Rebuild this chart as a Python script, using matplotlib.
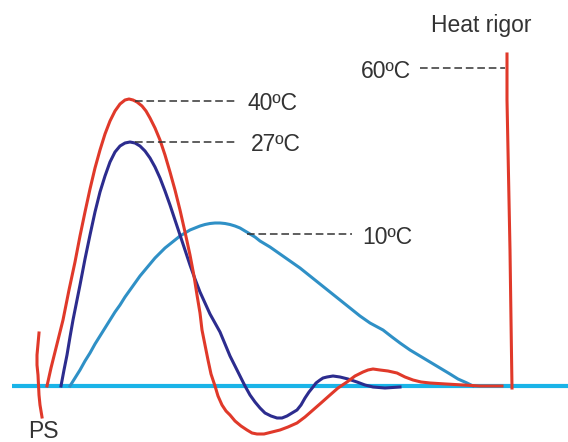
import matplotlib.pyplot as plt

plt.rcParams['font.family'] = ['Liberation Sans', 'DejaVu Sans']

# curve points (pixel units, y downwards)
red_x = [47, 51, 55, 59, 63, 69, 75, 80, 85, 90, 95, 100, 105, 110, 115, 120, 125, 129, 133, 137, 142, 146,
         150, 155, 160, 165, 170, 175, 180, 185, 190, 194, 197, 200, 202, 205, 208, 211, 215,
         218, 222, 226, 230, 235, 241, 247, 252, 257, 264, 272, 280, 288, 297, 305, 313, 321, 330, 338, 347,
         355, 363, 368, 373, 380, 388, 397, 405, 413, 421, 430, 446, 463, 480, 502]
red_y = [386, 368, 352, 336, 320, 290, 262, 236, 212, 189, 168, 150, 134, 121, 111, 104, 100, 99, 100, 102, 106, 111,
         118, 128, 140, 155, 172, 190, 210, 232, 255, 276, 295, 313, 330, 345, 360, 374, 386,
         396, 405, 411, 415, 421, 426, 430, 433, 434, 434, 432, 430, 427, 423, 417, 410, 403, 395, 388, 382,
         376, 372, 370, 369, 370, 371, 373, 377, 380, 382, 383, 384, 385, 386, 386]

navy_x = [61, 64, 67, 70, 73, 77, 80, 85, 90, 95, 100, 105, 110, 115, 120, 125, 130, 135, 140, 145, 150, 155,
          160, 165, 170, 175, 180, 185, 190, 195, 200, 205, 210, 215, 220, 225, 230, 235, 240,
          245, 250, 255, 260, 265, 271, 277, 282, 287, 292, 297, 301, 305, 309, 313, 316, 320, 323, 327, 333,
          340, 348, 357, 365, 373, 385, 400]
navy_y = [386, 370, 355, 337, 320, 300, 285, 259, 235, 212, 192, 176, 162, 152, 146, 143, 142, 143, 146, 151, 158, 167,
          178, 191, 205, 220, 235, 250, 265, 279, 292, 303, 314, 323, 332, 344, 356, 366, 376,
          386, 395, 402, 408, 413, 416, 418, 418, 416, 413, 410, 405, 398, 392, 387, 383, 380, 378, 377, 376,
          377, 379, 382, 385, 387, 388, 387]

blue_x = [70, 75, 80, 85, 90, 95, 100, 105, 110, 115, 120, 125, 130, 135, 140, 145, 150, 155, 160, 165, 170,
          175, 180, 185, 190, 195, 200, 205, 210, 215, 220, 225, 230, 235, 240, 245, 250, 255, 260, 270, 280,
          290, 300, 310, 320, 330, 340, 350, 360, 370, 383, 392, 400, 410, 420, 430, 440, 450, 458, 467, 473]
blue_y = [386, 378, 370, 361, 353, 344, 336, 328, 320, 312, 305, 297, 290, 283, 276, 270, 264, 258, 253, 248, 244,
          240, 236, 233, 230, 228, 226, 224.5, 223.5, 223, 223, 223.5, 224.5, 226, 228, 231, 234, 237, 241, 247, 254,
          261, 268, 276, 284, 292, 300, 308, 316, 323, 330, 337, 343, 350, 356, 362, 368, 374, 379, 383, 386]

rigor_x = [507, 507, 508, 509, 510, 511, 512]
rigor_y = [54, 100, 150, 200, 250, 320, 388]

ps_x = [39, 38, 37, 37, 38, 39, 40, 42]
ps_y = [333, 344, 355, 365, 375, 395, 405, 417]

base_x = [12, 568]
base_y = [386, 386]

# leader lines: (x0, x1, y) and labels: (text, x, baseline y)
leaders = [(135, 238, 101), (135, 238, 142), (247, 352, 234), (420, 505, 68)]
labels = [("40ºC", 247, 110), ("27ºC", 251, 151), ("10ºC", 362, 244), ("60ºC", 361, 78),
          ("Heat rigor", 431, 32), ("PS", 28, 438)]

fig = plt.figure(figsize=(5.68, 4.42), dpi=100)
ax = fig.add_axes([0, 0, 1, 1])
ax.set_xlim(0, 568)
ax.set_ylim(442, 0)
ax.axis("off")

ax.plot(base_x, base_y, color="#1ab4e8", lw=3.0, solid_capstyle="butt")
ax.plot(blue_x, blue_y, color="#2f90c6", lw=2.2)
ax.plot(navy_x, navy_y, color="#2c2c8e", lw=2.2)
ax.plot(red_x, red_y, color="#e0392a", lw=2.2)
ax.plot(rigor_x, rigor_y, color="#e0392a", lw=2.2)
ax.plot(ps_x, ps_y, color="#e0392a", lw=2.2)

for x0, x1, y in leaders:
    ax.plot([x0, x1], [y, y], color="#333333", lw=1.1, linestyle=(0, (5, 2.5)))

for t, x, y in labels:
    ax.text(x, y, t, fontsize=16.5, color="#333333", ha="left", va="baseline")

fig.savefig("out.png", dpi=100)
